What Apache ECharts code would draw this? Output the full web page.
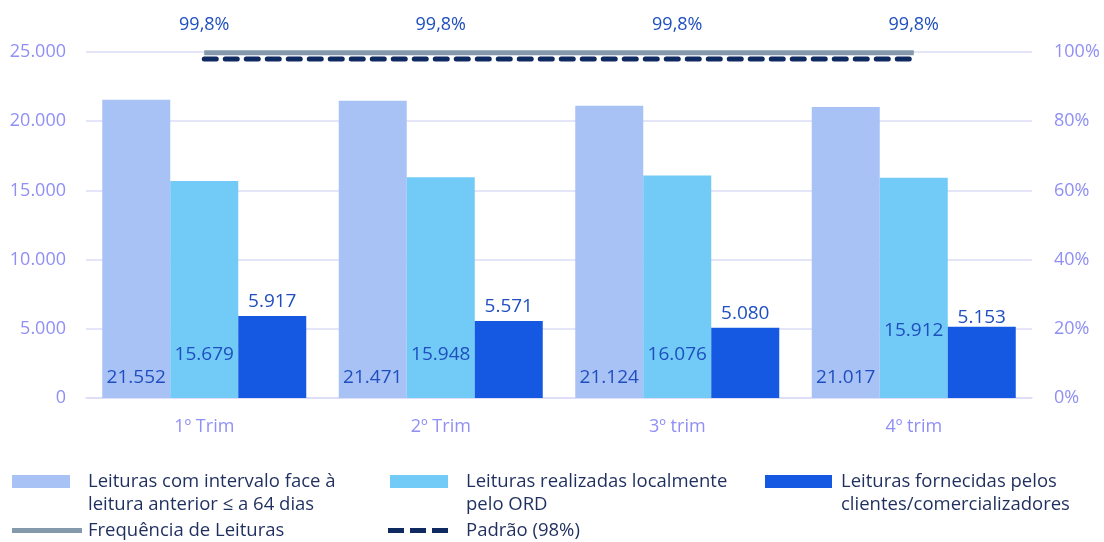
<!DOCTYPE html>
<html><head><meta charset="utf-8">
<script src="https://cdn.jsdelivr.net/npm/echarts@6/dist/echarts.min.js"></script>
<style>html,body{margin:0;padding:0;background:#fff}#c{width:1104px;height:542px}</style>
</head><body><div id="c"></div>
<script>
const categories = ['1º Trim', '2º Trim', '3º trim', '4º trim'];
const leiturasIntervalo = [21552, 21471, 21124, 21017];
const leiturasLocais = [15679, 15948, 16076, 15912];
const leiturasClientes = [5917, 5571, 5080, 5153];
const frequencia = [0.998, 0.998, 0.998, 0.998];
const padrao = [0.98, 0.98, 0.98, 0.98];
const leftTicks = [0, 5000, 10000, 15000, 20000, 25000];
const rightTicks = [0, 0.2, 0.4, 0.6, 0.8, 1];

const names = {
  a: 'Leituras com intervalo face à\nleitura anterior ≤ a 64 dias',
  b: 'Leituras realizadas localmente\npelo ORD',
  c: 'Leituras fornecidas pelos\nclientes/comercializadores',
  d: 'Frequência de Leituras',
  e: 'Padrão (98%)'
};
const FONT = 'Open Sans';
const fmtThousands = v => String(Math.round(v)).replace(/\B(?=(\d{3})+(?!\d))/g, '.');
const labelColor = '#1f4fbf';
const axisColor = '#8f8ff5';

function legendAt(name, left, top, iw, ih, icon, padLeft) {
  return {data: [{name: name, icon: icon}], left: left, top: top, itemWidth: iw, itemHeight: ih,
    itemGap: 0, symbolKeepAspect: false,
    textStyle: {color: '#1f2f5f', fontSize: 18.5, fontFamily: FONT, lineHeight: 23, padding: [0, 0, 0, padLeft]},
    selectedMode: false, padding: 0};
}
const barIcon = 'path://M0 0H58V13H0Z M0 36L0.01 36';
const barIconC = 'path://M0 0H67V13H0Z M0 36L0.01 36';
const dashIcon = 'path://M0 0H16V5H0Z M22 0H38V5H22Z M44 0H60V5H44Z';

const chart = echarts.init(document.getElementById('c'), null, {renderer: 'canvas'});
chart.setOption({
  animation: false,
  textStyle: {fontFamily: FONT},
  grid: {left: 86, right: 72, top: 52, bottom: 144},
  legend: [
    legendAt(names.a, 12, 470, 58, 36, barIcon, 13),
    legendAt(names.b, 390, 470, 58, 36, barIcon, 13),
    legendAt(names.c, 765, 470, 67, 36, barIconC, 4),
    legendAt(names.d, 12, 519, 70, 5, 'rect', 1),
    legendAt(names.e, 388, 519, 60, 5, dashIcon, 13)
  ],
  xAxis: {
    type: 'category', data: categories,
    axisLine: {show: true, lineStyle: {color: '#dcdcf7', width: 1.5}},
    axisTick: {show: false},
    axisLabel: {color: axisColor, fontSize: 18, fontFamily: FONT, margin: 20}
  },
  yAxis: [
    {type: 'value', min: leftTicks[0], max: leftTicks[leftTicks.length - 1], interval: 5000,
     axisLine: {show: false}, axisTick: {show: false},
     splitLine: {lineStyle: {color: '#dcdcf7', width: 1.5}},
     axisLabel: {color: axisColor, fontSize: 18, fontFamily: FONT, margin: 20, formatter: fmtThousands}},
    {type: 'value', min: rightTicks[0], max: rightTicks[rightTicks.length - 1], interval: 0.2,
     axisLine: {show: false}, axisTick: {show: false}, splitLine: {show: false},
     axisLabel: {color: axisColor, fontSize: 18, fontFamily: FONT, margin: 22,
       formatter: v => Math.round(v * 100) + '%'}}
  ],
  series: [
    {name: names.a, type: 'bar', data: leiturasIntervalo, barWidth: 68, barGap: '0%',
     itemStyle: {color: '#a8c2f6'},
     label: {show: true, position: 'insideBottom', distance: 11, color: labelColor, fontSize: 19,
       fontFamily: FONT, formatter: p => fmtThousands(p.value)}},
    {name: names.b, type: 'bar', data: leiturasLocais.map((v, i) => i === 3
       ? {value: v, label: {distance: 58}} : v), barWidth: 68,
     itemStyle: {color: '#72caf6'},
     label: {show: true, position: 'insideBottom', distance: 34, color: labelColor, fontSize: 19,
       fontFamily: FONT, formatter: p => fmtThousands(p.value)}},
    {name: names.c, type: 'bar', data: leiturasClientes.map((v, i) => i === 3
       ? {value: v, label: {distance: 0}} : v), barWidth: 68,
     itemStyle: {color: '#1559e2'},
     label: {show: true, position: 'top', distance: 5, color: labelColor, fontSize: 19,
       fontFamily: FONT, formatter: p => fmtThousands(p.value)}},
    {name: names.d, type: 'line', yAxisIndex: 1, data: frequencia, symbol: 'circle', symbolSize: 1,
     showSymbol: true,
     lineStyle: {color: '#8499ac', width: 5}, itemStyle: {color: '#8499ac'},
     label: {show: true, position: 'top', distance: 18, color: labelColor, fontSize: 18,
       fontFamily: FONT, formatter: p => (p.value * 100).toFixed(1).replace('.', ',') + '%'}},
    {name: names.e, type: 'line', yAxisIndex: 1, data: padrao, symbol: 'none',
     lineStyle: {color: '#0e2a60', width: 5, type: [12, 9], cap: 'round'}, itemStyle: {color: '#0e2a60'}}
  ]
});
</script></body></html>
